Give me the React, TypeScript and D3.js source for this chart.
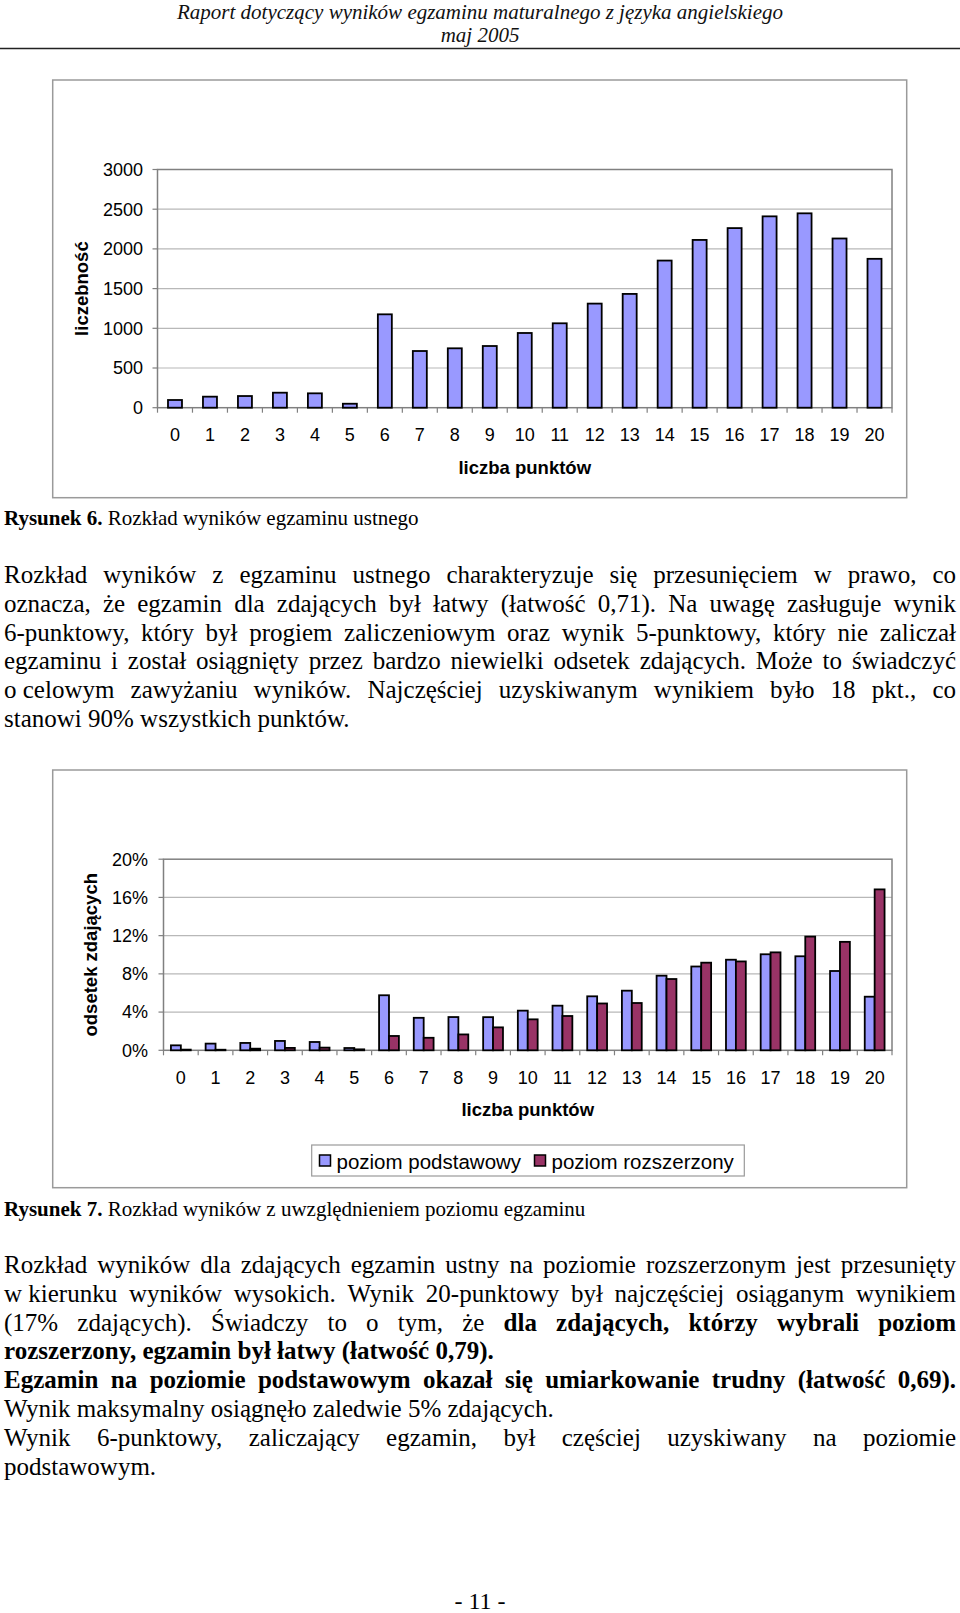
import React from "react";
import * as d3 from "d3";

// ---------- DATA ----------
const points = ["0","1","2","3","4","5","6","7","8","9","10","11","12","13","14","15","16","17","18","19","20"];
const counts = [97,139,147,189,181,50,1176,714,748,777,941,1063,1311,1433,1853,2113,2262,2410,2448,2131,1875];
const countTicks = [0,500,1000,1500,2000,2500,3000];

const seriesNames = ["poziom podstawowy","poziom rozszerzony"];
const podstawowy = [0.52,0.70,0.77,0.98,0.87,0.24,5.76,3.40,3.48,3.47,4.15,4.67,5.65,6.24,7.81,8.77,9.48,10.05,9.84,8.30,5.61];
const rozszerzony = [0.07,0.06,0.17,0.25,0.28,0.10,1.50,1.31,1.66,2.40,3.24,3.59,4.90,4.95,7.46,9.17,9.30,10.25,11.90,11.35,16.84];
const pctTicks = [0,4,8,12,16,20];

const headerLines = ["Raport dotyczący wyników egzaminu maturalnego z języka angielskiego","maj 2005"];

type Seg = { t: string; b?: boolean };
type Line = { segs: Seg[]; justify: boolean };

const para1: Line[] = [
  { segs: [{ t: "Rozkład wyników z egzaminu ustnego charakteryzuje się przesunięciem w prawo, co" }], justify: true },
  { segs: [{ t: "oznacza, że egzamin dla zdających był łatwy (łatwość 0,71). Na uwagę zasługuje wynik" }], justify: true },
  { segs: [{ t: "6-punktowy, który był progiem zaliczeniowym oraz wynik 5-punktowy, który nie zaliczał" }], justify: true },
  { segs: [{ t: "egzaminu i został osiągnięty przez bardzo niewielki odsetek zdających. Może to świadczyć" }], justify: true },
  { segs: [{ t: "o\u00a0celowym zawyżaniu wyników. Najczęściej uzyskiwanym wynikiem było 18 pkt., co" }], justify: true },
  { segs: [{ t: "stanowi 90% wszystkich punktów." }], justify: false },
];

const para2: Line[] = [
  { segs: [{ t: "Rozkład wyników dla zdających egzamin ustny na poziomie rozszerzonym jest przesunięty" }], justify: true },
  { segs: [{ t: "w\u00a0kierunku wyników wysokich. Wynik 20-punktowy był najczęściej osiąganym wynikiem" }], justify: true },
  { segs: [{ t: "(17% zdających). Świadczy to o tym, że" }, { t: "dla zdających, którzy wybrali poziom", b: true }], justify: true },
  { segs: [{ t: "rozszerzony, egzamin był łatwy (łatwość 0,79).", b: true }], justify: false },
  { segs: [{ t: "Egzamin na poziomie podstawowym okazał się umiarkowanie trudny (łatwość 0,69).", b: true }], justify: true },
  { segs: [{ t: "Wynik maksymalny osiągnęło zaledwie 5% zdających." }], justify: false },
  { segs: [{ t: "Wynik 6-punktowy, zaliczający egzamin, był częściej uzyskiwany na poziomie" }], justify: true },
  { segs: [{ t: "podstawowym." }], justify: false },
];

// ---------- LAYOUT ----------
const W = 960, H = 1613;
const SANS = "'Liberation Sans', Arial, sans-serif";
const SERIF = "'Liberation Serif', 'Times New Roman', serif";
const BODY_FS = 25;
const TEXT_L = 4, TEXT_R = 956;
const LINE_H = 28.8;

let ctx: CanvasRenderingContext2D | null = null;
function measure(text: string, font: string) {
  if (!ctx) {
    const c = document.createElement("canvas");
    ctx = c.getContext("2d");
  }
  if (!ctx) return text.length * 10;
  ctx.font = font;
  return ctx.measureText(text).width;
}

function Paragraph({ lines, y0 }: { lines: Line[]; y0: number }) {
  const out: React.ReactNode[] = [];
  lines.forEach((line, li) => {
    const words: { t: string; b: boolean; w: number }[] = [];
    line.segs.forEach((s) => {
      s.t.split(" ").filter((w) => w.length).forEach((w) => {
        const font = `${s.b ? "bold " : ""}${BODY_FS}px ${SERIF}`;
        words.push({ t: w, b: !!s.b, w: measure(w, font) });
      });
    });
    const total = d3.sum(words, (w) => w.w);
    const space = measure(" ", `${BODY_FS}px ${SERIF}`);
    const gap = line.justify && words.length > 1 ? (TEXT_R - TEXT_L - total) / (words.length - 1) : space;
    let x = TEXT_L;
    const y = y0 + li * LINE_H;
    words.forEach((w, wi) => {
      out.push(
        <text key={`${li}-${wi}`} x={x} y={y} fontFamily={SERIF} fontSize={BODY_FS} fontWeight={w.b ? "bold" : "normal"} fill="#000">
          {w.t}
        </text>
      );
      x += w.w + gap;
    });
  });
  return <g>{out}</g>;
}

function Chart1() {
  const left = 157.5, right = 892, top = 169.5, bottom = 407.7;
  const x = d3.scaleBand<string>().domain(points).range([left, right]).paddingInner(0.6).paddingOuter(0.3);
  const y = d3.scaleLinear().domain([0, 3000]).range([bottom, top]);
  const step = x.step();
  return (
    <g>
      <rect x={52.7} y={80} width={854} height={417.7} fill="#fff" stroke="#9a9a9a" strokeWidth={1.5} />
      {countTicks.filter((t) => t > 0 && t < 3000).map((t) => (
        <line key={t} x1={left} x2={right} y1={y(t)} y2={y(t)} stroke="#b8b8b8" strokeWidth={1.2} />
      ))}
      <rect x={left} y={top} width={right - left} height={bottom - top} fill="none" stroke="#808080" strokeWidth={1.5} />
      {countTicks.map((t) => (
        <g key={t}>
          <line x1={left - 5} x2={left} y1={y(t)} y2={y(t)} stroke="#808080" strokeWidth={1.2} />
          <text x={143} y={y(t)} dy="0.35em" textAnchor="end" fontFamily={SANS} fontSize={18} fill="#000">{t}</text>
        </g>
      ))}
      {points.map((p, i) => (
        <line key={p} x1={left + i * step} x2={left + i * step} y1={bottom} y2={bottom + 5} stroke="#808080" strokeWidth={1.2} />
      ))}
      <line x1={right} x2={right} y1={bottom} y2={bottom + 5} stroke="#808080" strokeWidth={1.2} />
      {counts.map((v, i) => (
        <rect key={i} x={x(points[i])!} y={y(v)} width={x.bandwidth()} height={bottom - y(v)} fill="#9999FF" stroke="#000" strokeWidth={1.8} />
      ))}
      {points.map((p) => (
        <text key={p} x={x(p)! + x.bandwidth() / 2} y={441} textAnchor="middle" fontFamily={SANS} fontSize={18} fill="#000">{p}</text>
      ))}
      <text x={(left + right) / 2} y={474} textAnchor="middle" fontFamily={SANS} fontSize={18.5} fontWeight="bold" fill="#000">liczba punktów</text>
      <text transform={`translate(88,${(top + bottom) / 2}) rotate(-90)`} textAnchor="middle" fontFamily={SANS} fontSize={18.5} fontWeight="bold" fill="#000">liczebność</text>
    </g>
  );
}

function Chart2() {
  const left = 163.5, right = 892, top = 859.2, bottom = 1050.3;
  const x0 = d3.scaleBand<string>().domain(points).range([left, right]).padding(0);
  const x1 = d3.scaleBand<string>().domain(seriesNames).range([0, x0.step()]).paddingInner(0).paddingOuter(0.75);
  const y = d3.scaleLinear().domain([0, 20]).range([bottom, top]);
  const step = x0.step();
  const series = [podstawowy, rozszerzony];
  const colors = ["#9999FF", "#993366"];
  return (
    <g>
      <rect x={52.7} y={770} width={854} height={417.7} fill="#fff" stroke="#9a9a9a" strokeWidth={1.5} />
      {pctTicks.filter((t) => t > 0 && t < 20).map((t) => (
        <line key={t} x1={left} x2={right} y1={y(t)} y2={y(t)} stroke="#b8b8b8" strokeWidth={1.2} />
      ))}
      <rect x={left} y={top} width={right - left} height={bottom - top} fill="none" stroke="#808080" strokeWidth={1.5} />
      {pctTicks.map((t) => (
        <g key={t}>
          <line x1={left - 5} x2={left} y1={y(t)} y2={y(t)} stroke="#808080" strokeWidth={1.2} />
          <text x={148} y={y(t)} dy="0.35em" textAnchor="end" fontFamily={SANS} fontSize={18} fill="#000">{`${t}%`}</text>
        </g>
      ))}
      {points.map((p, i) => (
        <line key={p} x1={left + i * step} x2={left + i * step} y1={bottom} y2={bottom + 5} stroke="#808080" strokeWidth={1.2} />
      ))}
      <line x1={right} x2={right} y1={bottom} y2={bottom + 5} stroke="#808080" strokeWidth={1.2} />
      {series.map((s, si) =>
        s.map((v, i) => (
          <rect key={`${si}-${i}`} x={x0(points[i])! + x1(seriesNames[si])!} y={y(v)} width={x1.bandwidth()} height={bottom - y(v)} fill={colors[si]} stroke="#000" strokeWidth={1.8} />
        ))
      )}
      {points.map((p) => (
        <text key={p} x={x0(p)! + step / 2} y={1084} textAnchor="middle" fontFamily={SANS} fontSize={18} fill="#000">{p}</text>
      ))}
      <text x={(left + right) / 2} y={1116} textAnchor="middle" fontFamily={SANS} fontSize={18.5} fontWeight="bold" fill="#000">liczba punktów</text>
      <text transform={`translate(97,${(top + bottom) / 2}) rotate(-90)`} textAnchor="middle" fontFamily={SANS} fontSize={18.5} fontWeight="bold" fill="#000">odsetek zdających</text>
      {/* legend */}
      <rect x={311.7} y={1145} width={432.6} height={31} fill="#fff" stroke="#9a9a9a" strokeWidth={1.2} />
      {seriesNames.map((n, i) => {
        const sx = i === 0 ? 319.5 : 534.5;
        return (
          <g key={n}>
            <rect x={sx} y={1155} width={11} height={11} fill={colors[i]} stroke="#000" strokeWidth={1.5} />
            <text x={sx + 17} y={1169} fontFamily={SANS} fontSize={20.5} fill="#000">{n}</text>
          </g>
        );
      })}
    </g>
  );
}

export default function App() {
  return (
    <svg width={W} height={H} viewBox={`0 0 ${W} ${H}`} style={{ position: "absolute", left: 0, top: 0, background: "#fff" }}>
      <rect x={0} y={0} width={W} height={H} fill="#fff" />
      <text x={480} y={19.3} textAnchor="middle" fontFamily={SERIF} fontStyle="italic" fontSize={21} fill="#111">{headerLines[0]}</text>
      <text x={480} y={42} textAnchor="middle" fontFamily={SERIF} fontStyle="italic" fontSize={21} fill="#111">{headerLines[1]}</text>
      <line x1={0} x2={W} y1={48.5} y2={48.5} stroke="#222" strokeWidth={1.6} />

      <Chart1 />
      <text x={4} y={525} fontFamily={SERIF} fontSize={21} fill="#000">
        <tspan fontWeight="bold">Rysunek 6.</tspan> Rozkład wyników egzaminu ustnego
      </text>
      <Paragraph lines={para1} y0={583} />

      <Chart2 />
      <text x={4} y={1216} fontFamily={SERIF} fontSize={21} fill="#000">
        <tspan fontWeight="bold">Rysunek 7.</tspan> Rozkład wyników z uwzględnieniem poziomu egzaminu
      </text>
      <Paragraph lines={para2} y0={1273} />

      <text x={480} y={1609} textAnchor="middle" fontFamily={SERIF} fontSize={24} fill="#000">- 11 -</text>
    </svg>
  );
}
